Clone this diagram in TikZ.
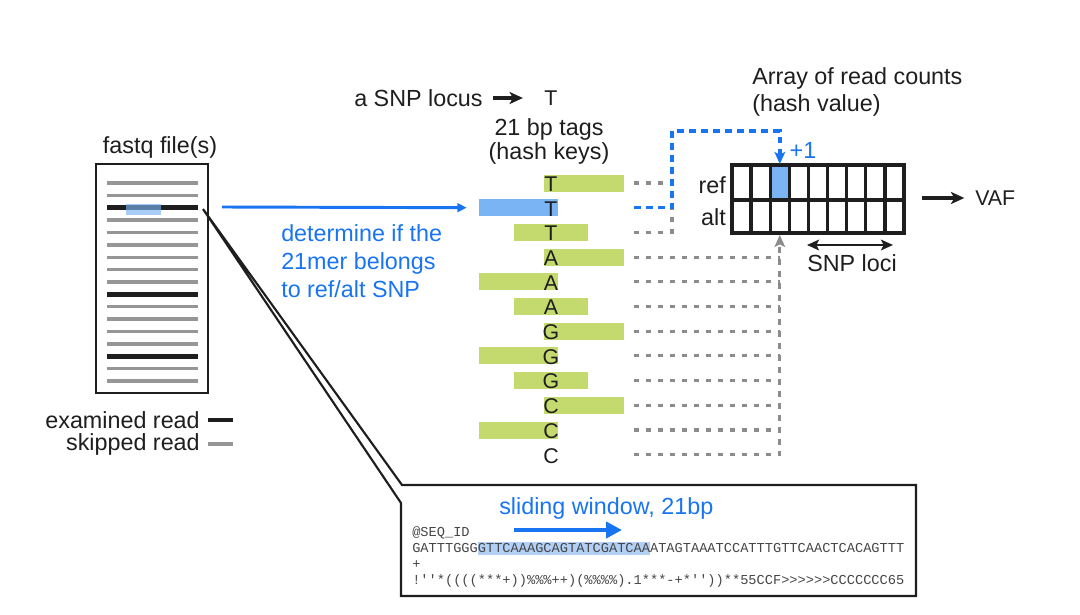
\documentclass[tikz,border=0pt]{standalone}
\usepackage{fontspec}
\setmainfont{Liberation Sans}
\setmonofont{Liberation Mono}
\usetikzlibrary{arrows.meta}
\definecolor{myblue}{RGB}{24,116,240}
\definecolor{barblue}{RGB}{122,180,245}
\definecolor{bargreen}{RGB}{197,218,110}
\definecolor{dashgray}{RGB}{140,140,140}
\definecolor{readgray}{RGB}{150,150,150}
\definecolor{ink}{RGB}{30,30,30}
\definecolor{seqgray}{RGB}{70,70,70}
\definecolor{hlblue}{RGB}{178,208,245}
\begin{document}
\begin{tikzpicture}[x=0.75pt,y=-0.75pt,
  txt/.style={inner sep=0pt, text=ink, font=\fontsize{17.5}{21}\selectfont},
  bluetxt/.style={txt, text=myblue},
  tagletter/.style={inner sep=0pt, text=ink, font=\fontsize{16}{16}\selectfont},
  barR/.style={fill=bargreen, minimum width=60pt, minimum height=12.75pt, inner sep=0pt},
  barL/.style={fill=bargreen, minimum width=59.25pt, minimum height=12.75pt, inner sep=0pt},
  barM/.style={fill=bargreen, minimum width=55.5pt, minimum height=12.75pt, inner sep=0pt},
  barB/.style={fill=barblue, minimum width=59.25pt, minimum height=12.75pt, inner sep=0pt},
  graydash/.style={draw=dashgray, line width=2.3pt, dash pattern=on 4pt off 5pt},
  bluedash/.style={draw=myblue, line width=2.6pt, dash pattern=on 5pt off 4pt},
  skipread/.style={draw=readgray, line width=2.6pt},
  examread/.style={draw=ink, line width=3.4pt},
  seq/.style={anchor=base west, inner sep=0pt, text=seqgray, font=\ttfamily\fontsize{10.25}{12}\selectfont},
  blackarrow/.style={draw=ink, line width=2.4pt, -{Stealth[length=10pt,width=9pt,inset=2.5pt]}},
]
\useasboundingbox (0,0) rectangle (1080,614);

% ---------- fastq file ----------
\node[txt] (fqtitle) at (160,147) {fastq file(s)};
\draw[ink, line width=1.3pt] (96,164) rectangle (208,393);
\foreach \i in {0,...,16}{
  \pgfmathsetmacro{\yy}{183+12.375*\i}
  \ifnum\i=2 \draw[examread] (107,\yy) -- (198,\yy);
  \else\ifnum\i=9 \draw[examread] (107,\yy) -- (198,\yy);
  \else\ifnum\i=14 \draw[examread] (107,\yy) -- (198,\yy);
  \else \draw[skipread] (107,\yy) -- (198,\yy);
  \fi\fi\fi
}
\fill[barblue, opacity=0.65] (126,204) rectangle (161,215);
\coordinate (readend) at (203,209);

% legend
\node[txt, anchor=east] (exlab) at (200,420) {examined read};
\draw[examread] ([xshift=6pt]exlab.east) -- ++(25,0);
\node[txt, anchor=east] (sklab) at (200,444) {skipped read};
\draw[skipread] ([xshift=6pt]sklab.east) -- ++(25,0);

% ---------- callout ----------
\draw[ink, line width=1.6pt, line join=miter] (readend) -- (402,485) -- (916,485) -- (916,596) -- (401,596) -- (401,503) -- cycle;
\node[bluetxt, anchor=west] (slide) at (499,508) {sliding window, 21bp};
\coordinate (slA) at (514,530);
\coordinate (slB) at (622,530);
\draw[myblue, line width=3.2pt, -{Triangle[length=12pt,width=12pt]}] (slA) -- (slB);
\fill[hlblue] (477.6,542) rectangle (649.8,554.5);
\node[seq] (s1) at (412,536) {@SEQ\_ID};
\node[seq] (s2) at (412,552) {GATTTGGGGTTCAAAGCAGTATCGATCAAATAGTAAATCCATTTGTTCAACTCACAGTTT};
\node[seq] (s3) at (412,568) {+};
\node[seq] (s4) at (412,584) {!''*((((***+))\%\%\%++)(\%\%\%\%).1***-+*''))**55CCF>>>>>>CCCCCCC65};

% ---------- tags ----------
\node[txt, anchor=west] (snp) at (354,98) {a SNP locus};
\node[tagletter] (topT) at (551,98) {T};
\draw[blackarrow] ([xshift=7.5pt]snp.east) -- ([xshift=-16pt]topT.west);
\node[txt, align=center, font=\fontsize{17.5}{17.5}\selectfont] (tags) at (549,141.5) {21 bp tags\\(hash keys)};

\node[barR] (b0) at (584,183) {};
\node[barB] (b1) at (518.5,207.7) {};
\node[barM] (b2) at (551,232.4) {};
\node[barR] (b3) at (584,257.1) {};
\node[barL] (b4) at (518.5,281.8) {};
\node[barM] (b5) at (551,306.5) {};
\node[barR] (b6) at (584,331.2) {};
\node[barL] (b7) at (518.5,355.9) {};
\node[barM] (b8) at (551,380.6) {};
\node[barR] (b9) at (584,405.3) {};
\node[barL] (b10) at (518.5,430) {};

\foreach \i/\yy/\l in {0/183/T,1/207.7/T,2/232.4/T,3/257.1/A,4/281.8/A,5/306.5/A,6/331.2/G,7/355.9/G,8/380.6/G,9/405.3/C,10/430/C,11/454.7/C}{
  \node[tagletter] (l\i) at (551,\yy+1) {\l};
  \coordinate (d\i) at (634,\yy);
}

% blue arrow and text
\coordinate (bstart) at (222,207);
\draw[myblue, line width=2.2pt, -{Triangle[length=7pt,width=6.5pt]}] (bstart) -- ([xshift=-9pt]b1.west);
\node[bluetxt, anchor=west, align=left] (det) at (281,261) {determine if the\\21mer belongs\\to ref/alt SNP};

% ---------- array ----------
\node[txt, anchor=west, align=left, font=\fontsize{17.5}{20.25}\selectfont] (arr) at (752,91.5) {Array of read counts\\(hash value)};
\fill[barblue] (770.2,165) rectangle (789.3,200);
\draw[ink, line width=2.5pt] (732,165) rectangle (904,233);
\draw[ink, line width=2.5pt] (732,200) -- (904,200);
\foreach \k in {1,...,8}{
  \draw[ink, line width=2.5pt] (732+19.111*\k,165) -- (732+19.111*\k,233);
}
\coordinate (c2top) at (779.8,164);
\coordinate (c2bot) at (779.8,235);
\node[txt, anchor=east] (ref) at (726,185) {ref};
\node[txt, anchor=east] (alt) at (726,217) {alt};
\node[bluetxt] (plus) at (803,150) {+1};
\node[txt, anchor=west, font=\fontsize{16}{16}\selectfont] (vaf) at (975,198) {VAF};
\coordinate (vafstart) at (922,198);
\draw[blackarrow] (vafstart) -- ([xshift=-8pt]vaf.west);
\node[txt] (loci) at (852,263) {SNP loci};
\coordinate (lociL) at (807,245);
\coordinate (lociR) at (893,245);
\draw[ink, line width=1.9pt, {Stealth[length=9pt,width=8pt,inset=2pt]}-{Stealth[length=9pt,width=8pt,inset=2pt]}] (lociL) -- (lociR);

% ---------- dashed connectors ----------
\draw[graydash] (d0) -- (672,183) -- (672,232.4) -- (d2);
\foreach \i/\yy in {3/257.1,4/281.8,5/306.5,6/331.2,7/355.9,8/380.6,9/405.3,10/430}{
  \draw[graydash] (d\i) -- (780,\yy);
}
\draw[graydash, -{Stealth[length=9pt,width=8pt,inset=2pt]}] (d11) -- (779.8,454.7) -- (c2bot);
\draw[bluedash, -{Stealth[length=9pt,width=8pt,inset=2pt]}] (d1) -- (672,207.7) -- (672,131) -| (c2top);

\end{tikzpicture}
\end{document}
